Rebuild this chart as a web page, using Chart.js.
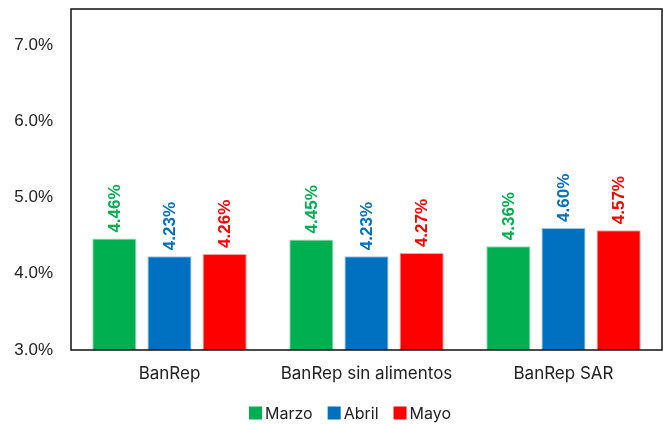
<!DOCTYPE html>
<html>
<head>
<meta charset="utf-8">
<script src="https://cdn.jsdelivr.net/npm/chart.js@4/dist/chart.umd.min.js"></script>
<style>
  html, body { margin: 0; padding: 0; background: #fff; }
  #wrap { width: 666px; height: 424px; }
</style>
</head>
<body>
<div id="wrap"><canvas id="inflChart" width="666" height="424"></canvas></div>
<script>
// data
const categories = ["BanRep", "BanRep sin alimentos", "BanRep SAR"];
const marzo = [4.46, 4.45, 4.36];
const abril = [4.23, 4.23, 4.60];
const mayo = [4.26, 4.27, 4.57];
const yTicks = [3, 4, 5, 6, 7];

const legendFont = "16px Inter, 'Noto Sans', sans-serif";

// draws the rotated value labels above each bar
const valueLabels = {
  id: "valueLabels",
  afterDatasetsDraw(chart) {
    const ctx = chart.ctx;
    chart.data.datasets.forEach((ds, i) => {
      const meta = chart.getDatasetMeta(i);
      meta.data.forEach((bar, j) => {
        ctx.save();
        ctx.translate(bar.x, bar.y - 6);
        ctx.rotate(-Math.PI / 2);
        ctx.font = "bold 17px Arial, 'Liberation Sans', sans-serif";
        ctx.fillStyle = ds.labelColor;
        ctx.textAlign = "left";
        ctx.textBaseline = "middle";
        ctx.fillText(ds.data[j].toFixed(2) + "%", 0, 1);
        ctx.restore();
      });
    });
  }
};

// box around the plot area + simple legend row under the axis
const frame = {
  id: "frame",
  afterDraw(chart) {
    const a = chart.chartArea;
    const ctx = chart.ctx;
    ctx.save();
    ctx.strokeStyle = "#111";
    ctx.lineWidth = 1.5;
    ctx.strokeRect(a.left, a.top, a.right - a.left, a.bottom - a.top);

    // legend
    ctx.font = legendFont;
    ctx.textBaseline = "middle";
    const box = 13, gapText = 3, gapItem = 15;
    const items = chart.data.datasets.map(ds => ({ label: ds.label, color: ds.backgroundColor, w: ctx.measureText(ds.label).width }));
    let total = 0;
    items.forEach((it, k) => { total += box + gapText + it.w + (k < items.length - 1 ? gapItem : 0); });
    let x = 350 - total / 2;
    const y = a.bottom + 63;
    items.forEach(it => {
      ctx.fillStyle = it.color;
      ctx.fillRect(x, y - box / 2, box, box);
      x += box + gapText;
      ctx.fillStyle = "#222";
      ctx.fillText(it.label, x, y + 1);
      x += it.w + gapItem;
    });
    ctx.restore();
  }
};

const ctx = document.getElementById("inflChart").getContext("2d");
new Chart(ctx, {
  type: "bar",
  data: {
    labels: categories,
    datasets: [
      { label: "Marzo", data: marzo, backgroundColor: "#00B050", borderColor: "#9fdcb4", borderWidth: 1, labelColor: "#00B050" },
      { label: "Abril", data: abril, backgroundColor: "#0070C0", borderColor: "#9cc4e4", borderWidth: 1, labelColor: "#0070C0" },
      { label: "Mayo", data: mayo, backgroundColor: "#FF0000", borderColor: "#ffa0a0", borderWidth: 1, labelColor: "#FF0000" }
    ]
  },
  options: {
    responsive: false,
    animation: false,
    datasets: { bar: { categoryPercentage: 0.84, barPercentage: 0.8 } },
    layout: { padding: { top: 9, right: 4, left: 0, bottom: 22 } },
    plugins: {
      legend: { display: false },
      tooltip: { enabled: false }
    },
    scales: {
      x: {
        grid: { display: false, drawTicks: false },
        border: { display: false },
        ticks: {
          padding: 14,
          color: "#222",
          font: { family: "Inter, 'Noto Sans', sans-serif", size: 17 }
        },
        afterFit: s => { s.height = 52; s.paddingLeft = 0; s.paddingRight = 0; }
      },
      y: {
        min: 3,
        max: 7.47,
        grid: { display: false, drawTicks: false },
        border: { display: false },
        afterBuildTicks: s => { s.ticks = yTicks.map(v => ({ value: v })); },
        ticks: {
          padding: 18,
          color: "#222",
          font: { family: "Arial, 'Liberation Sans', sans-serif", size: 17 },
          callback: v => v.toFixed(1) + "%"
        },
        afterFit: s => { s.width = 71; s.paddingTop = 0; s.paddingBottom = 0; }
      }
    }
  },
  plugins: [valueLabels, frame]
});
</script>
</body>
</html>
